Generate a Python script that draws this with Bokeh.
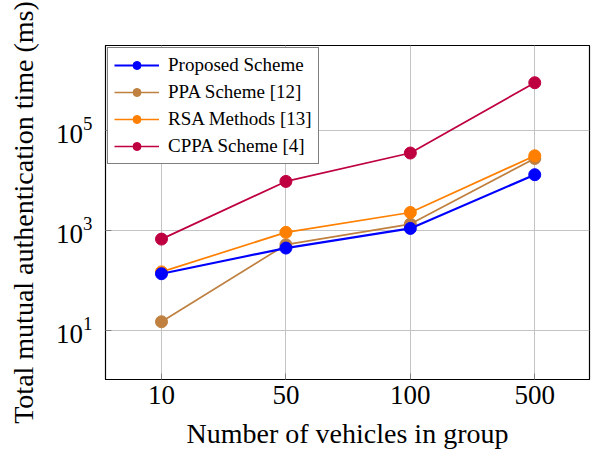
from bokeh.plotting import figure
from bokeh.models import Range1d, FixedTicker, LogTickFormatter, Legend, LegendItem
from bokeh.embed import file_html
from bokeh.resources import INLINE

# ---- data ----
vehicles = ["10", "50", "100", "500"]
proposed = [134, 437, 1080, 12800]
ppa = [14.7, 510, 1320, 27000]
rsa = [146, 900, 2250, 30600]
cppa = [660, 9400, 34700, 883000]
y_ticks = [10, 1000, 100000]

series = [
    ("Proposed Scheme", proposed, "#0000FF", 2.2),
    ("PPA Scheme [12]", ppa, "#BF8040", 1.7),
    ("RSA Methods [13]", rsa, "#FF8000", 1.7),
    ("CPPA Scheme [4]", cppa, "#BF0040", 1.7),
]

xs = list(range(len(vehicles)))

FONT = "Liberation Serif"

p = figure(width=592, height=451, y_axis_type="log",
           x_range=Range1d(-0.45, 3.44), y_range=Range1d(1.03, 4.9e6),
           output_backend="svg", toolbar_location=None,
           min_border_left=105, min_border_right=3, min_border_top=45, min_border_bottom=72)

p.outline_line_color = "black"
p.outline_line_width = 1.2
p.background_fill_color = "white"

# grid
p.xgrid.grid_line_color = "#C4C4C4"
p.ygrid.grid_line_color = "#C4C4C4"
p.xgrid.grid_line_width = 1
p.ygrid.grid_line_width = 1

# x axis
p.xaxis.ticker = FixedTicker(ticks=xs)
p.xaxis.major_label_overrides = {i: v for i, v in zip(xs, vehicles)}
p.xaxis.axis_label = "Number of vehicles in group"
# y axis
p.yaxis.ticker = FixedTicker(ticks=y_ticks)
p.yaxis.formatter = LogTickFormatter()
p.yaxis.axis_label = "Total mutual authentication time (ms)"

for ax in (p.xaxis[0], p.yaxis[0]):
    ax.axis_line_color = "black"
    ax.major_tick_in = 6
    ax.major_tick_out = 0
    ax.major_tick_line_color = "#808080"
    ax.minor_tick_line_color = None
    ax.major_label_text_font = FONT
    ax.major_label_text_font_size = "27px"
    ax.major_label_text_color = "black"
    ax.axis_label_text_font = FONT
    ax.axis_label_text_font_size = "28px"
    ax.axis_label_text_font_style = "normal"
    ax.axis_label_text_color = "black"

p.xaxis.major_label_standoff = 6
p.xaxis.axis_label_standoff = 11
p.yaxis.major_label_standoff = 13
p.yaxis.axis_label_standoff = 14

renderers = {}
# draw order: CPPA, PPA, RSA, Proposed (blue on top)
for name, vals, color, lw in [series[3], series[1], series[2], series[0]]:
    lr = p.line(xs, vals, line_color=color, line_width=lw)
    sr = p.scatter(xs, vals, size=12, marker="circle", fill_color=color, line_color=color)
    renderers[name] = [lr, sr]

items = [LegendItem(label=name, renderers=renderers[name]) for name, _, _, _ in series]
legend = Legend(items=items, location="top_left")
legend.margin = 2
legend.padding = 6
legend.spacing = 5
legend.glyph_width = 45
legend.glyph_height = 20
legend.label_standoff = 9
legend.label_text_font = FONT
legend.label_text_font_size = "19px"
legend.label_text_color = "black"
legend.border_line_color = "black"
legend.border_line_width = 1.2
legend.background_fill_alpha = 1
p.add_layout(legend, "center")

open("out.html", "w").write(file_html(p, INLINE))
